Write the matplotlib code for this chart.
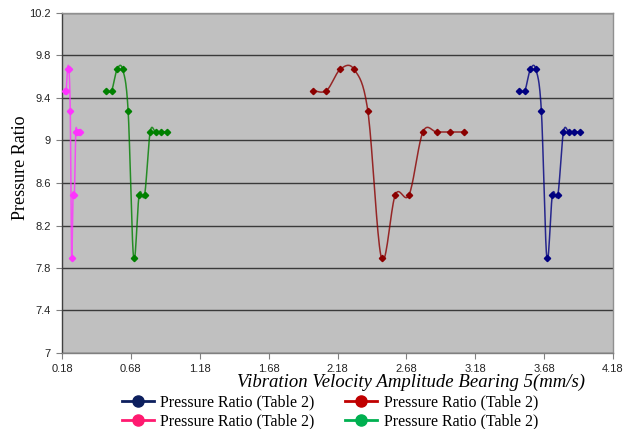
#!/usr/bin/env python3

import numpy as np
import matplotlib
matplotlib.use("Agg")
import matplotlib.pyplot as plt
from matplotlib.lines import Line2D

# pressure ratio readings (same profile for each bearing run)
ratio = [9.47, 9.47, 9.67, 9.67, 9.28, 7.89, 8.49, 8.49, 9.08, 9.08, 9.08, 9.08]

# vibration velocity amplitude per series (mm/s)
x_pink = [0.20, 0.21, 0.22, 0.23, 0.24, 0.25, 0.26, 0.27, 0.28, 0.29, 0.30, 0.31]
x_green = [0.50, 0.54, 0.58, 0.62, 0.66, 0.70, 0.74, 0.78, 0.82, 0.86, 0.90, 0.94]
x_red = [2.0, 2.1, 2.2, 2.3, 2.4, 2.5, 2.6, 2.7, 2.8, 2.9, 3.0, 3.1]
x_blue = [3.50, 3.54, 3.58, 3.62, 3.66, 3.70, 3.74, 3.78, 3.82, 3.86, 3.90, 3.94]

x_ticks = [0.18, 0.68, 1.18, 1.68, 2.18, 2.68, 3.18, 3.68, 4.18]
y_ticks = [7, 7.4, 7.8, 8.2, 8.6, 9, 9.4, 9.8, 10.2]
y_tick_labels = ["7", "7.4", "7.8", "8.2", "8.6", "9", "9.4", "9.8", "10.2"]
legend_label = "Pressure Ratio (Table 2)"


def smooth(x, y, n=20):
   # excel-like smoothed line (catmull-rom through the points)
   p = np.column_stack([x, y]).astype(float)
   p = np.vstack([p[0], p, p[-1]])
   t = np.linspace(0, 1, n)[:, None]
   out = []
   for i in range(1, len(p) - 2):
      p0, p1, p2, p3 = p[i - 1], p[i], p[i + 1], p[i + 2]
      seg = 0.5 * ((2 * p1) + (-p0 + p2) * t + (2 * p0 - 5 * p1 + 4 * p2 - p3) * t ** 2
                   + (-p0 + 3 * p1 - 3 * p2 + p3) * t ** 3)
      out.append(seg)
   out = np.vstack(out)
   return out[:, 0], out[:, 1]


fig = plt.figure(figsize=(6.25, 4.29), dpi=100)
ax = fig.add_axes([62 / 625, 76 / 429, 551 / 625, 340 / 429])
ax.set_facecolor("#c0c0c0")

series = [
   (x_pink, "#ff33ff"),
   (x_green, "#008000"),
   (x_red, "#8b0000"),
   (x_blue, "#000080"),
]
for xs, col in series:
   sx, sy = smooth(xs, ratio)
   ax.plot(sx, sy, color=col, linewidth=1.1, alpha=0.8, zorder=3)
   ax.plot(xs, ratio, linestyle="none", marker="D", markersize=3.2, color=col, zorder=4)

ax.set_xlim(0.18, 4.18)
ax.set_ylim(7, 10.2)
ax.set_xticks(x_ticks)
ax.set_xticklabels([f"{v:.2f}" for v in x_ticks])
ax.set_yticks(y_ticks)
ax.set_yticklabels(y_tick_labels)
ax.grid(axis="y", color="#3a3a3a", linewidth=1.0)
ax.set_axisbelow(True)
ax.tick_params(axis="both", direction="out", length=4, width=0.8, color="#808080",
               labelsize=8, labelcolor="#222222", pad=4)
for lbl in ax.get_xticklabels() + ax.get_yticklabels():
   lbl.set_family("Liberation Sans")

ax.spines["left"].set_color("#404040")
ax.spines["bottom"].set_color("#808080")
ax.spines["right"].set_color("#909090")
ax.spines["top"].set_color("#909090")
for s in ax.spines.values():
   s.set_linewidth(1.0)

fig.text(21 / 625, 1 - 168 / 429, "Pressure Ratio", family="Liberation Serif",
         fontsize=13, rotation=90, ha="center", va="center")
# the title box sits over the lower half of the tick labels, as in the original
fig.text(411 / 625, 1 - 382 / 429, "Vibration Velocity Amplitude Bearing 5(mm/s)",
         family="Liberation Serif", style="italic", fontsize=13.5, ha="center", va="center",
         zorder=10, bbox=dict(facecolor="white", edgecolor="none", pad=0.5))

# legend colours differ a bit from the drawn lines in the original
handles = [
   Line2D([], [], color="#0d1f5e", marker="o", markersize=8, linewidth=2),
   Line2D([], [], color="#ff1a70", marker="o", markersize=8, linewidth=2),
   Line2D([], [], color="#c00000", marker="o", markersize=8, linewidth=2),
   Line2D([], [], color="#00b050", marker="o", markersize=8, linewidth=2),
]
fig.legend(handles, [legend_label] * 4, ncol=2, loc="center",
           bbox_to_anchor=(330 / 625, 1 - 412 / 429), frameon=False,
           prop={"family": "Liberation Serif", "size": 11.5},
           handlelength=2.0, handletextpad=0.4, columnspacing=1.9,
           labelspacing=0.2, borderaxespad=0)

fig.savefig("out.png", dpi=100)
